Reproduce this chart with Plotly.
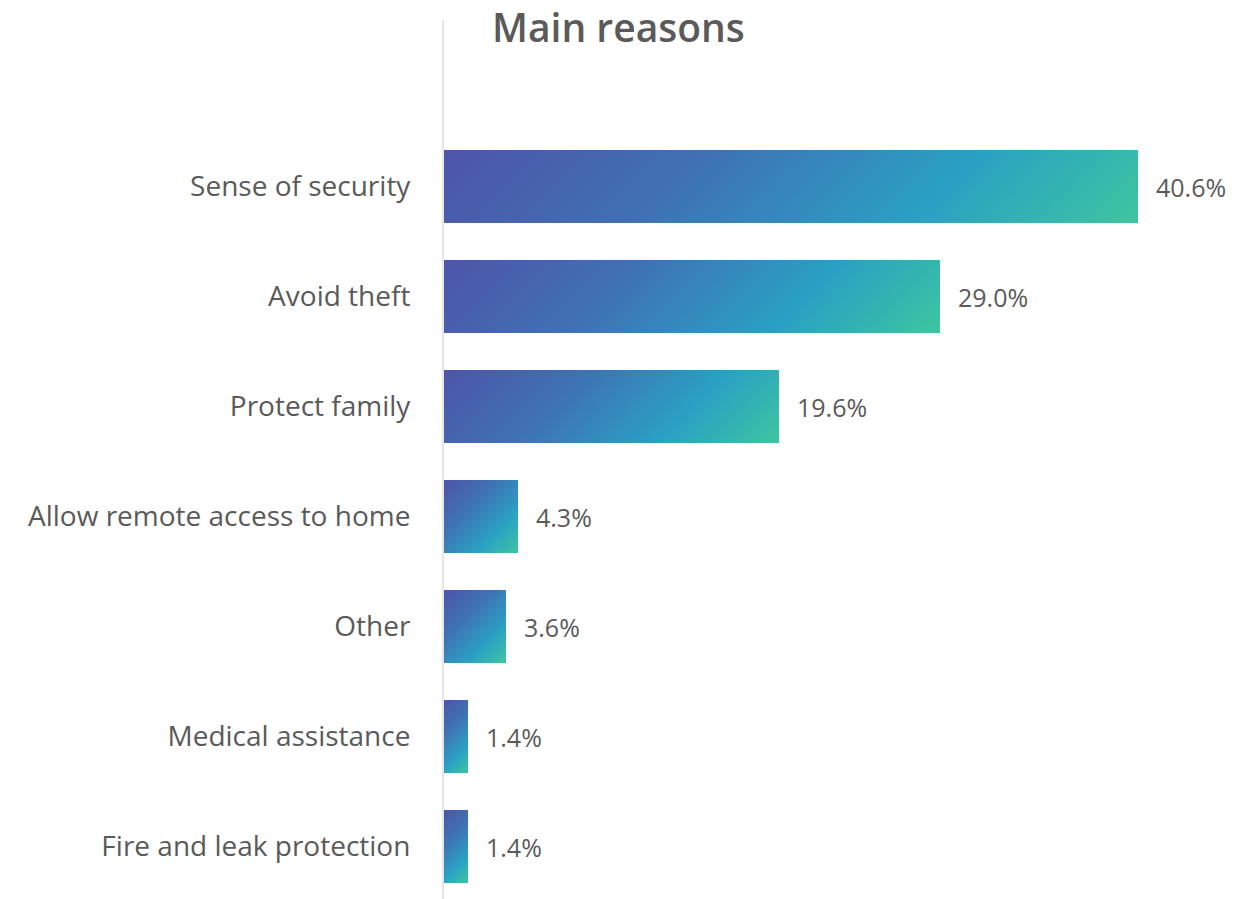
import numpy as np
import plotly.graph_objects as go

categories = ["Sense of security", "Avoid theft", "Protect family",
              "Allow remote access to home", "Other", "Medical assistance",
              "Fire and leak protection"]
values = [40.6, 29.0, 19.6, 4.3, 3.6, 1.4, 1.4]
labels = ["40.6%", "29.0%", "19.6%", "4.3%", "3.6%", "1.4%", "1.4%"]
title_text = "Main reasons"

W, H = 1236, 899
ML, MR, MT, MB = 444, 0, 20, 0
XMAX = 46.33
YRANGE = [-0.4773, 7.5136]
HALF = 0.332

plot_w = W - ML - MR
plot_h = H - MT - MB
pxx = plot_w / XMAX
pxy = plot_h / (YRANGE[1] - YRANGE[0])

colorscale = [[0.0, "#4E55A8"], [0.35, "#3F72B4"], [0.7, "#2AA0C4"], [1.0, "#3DC69F"]]

n_cat = len(categories)
positions = [n_cat - 1 - i for i in range(n_cat)]

fig = go.Figure()
NX, NY = 80, 16
for v, c in zip(values, positions):
    xe = np.linspace(0, v, NX + 1)
    ye = np.linspace(c - HALF, c + HALF, NY + 1)
    xc = (xe[:-1] + xe[1:]) / 2
    yc = (ye[:-1] + ye[1:]) / 2
    w_px = v * pxx
    h_px = 2 * HALF * pxy
    X, Y = np.meshgrid(xc, yc)
    z = (X * pxx + (c + HALF - Y) * pxy) / (w_px + h_px)
    fig.add_trace(go.Heatmap(x=xe, y=ye, z=z, colorscale=colorscale,
                             zmin=0, zmax=1, showscale=False,
                             zsmooth="best", hoverinfo="skip"))

for v, c, t in zip(values, positions, labels):
    fig.add_annotation(x=v, y=c, text=t, showarrow=False, xanchor="left",
                       yanchor="middle", xshift=16,
                       font=dict(family="Open Sans", size=25, color="#5A5A5A"))

# Title as a paper annotation centred on the page
fig.add_annotation(x=(W / 2 - ML) / plot_w, xref="paper", y=1, yref="paper",
                   text=title_text, showarrow=False, xanchor="center",
                   yanchor="middle", yshift=-6, borderpad=0,
                   font=dict(family="Open Sans", size=39, color="#5A5A5A", weight=600))

fig.update_layout(
    width=W, height=H,
    margin=dict(l=ML, r=MR, t=MT, b=MB, pad=0),
    paper_bgcolor="white", plot_bgcolor="white",
    showlegend=False,
    xaxis=dict(range=[0, XMAX], visible=False, fixedrange=True),
    yaxis=dict(range=YRANGE, tickvals=positions, ticktext=categories,
               showgrid=False, zeroline=False, showline=True,
               linecolor="#E6E6E6", linewidth=2,
               ticks="outside", ticklen=26, tickcolor="rgba(0,0,0,0)",
               tickfont=dict(family="Open Sans", size=28, color="#5A5A5A")),
)

fig.write_html("out.html")
